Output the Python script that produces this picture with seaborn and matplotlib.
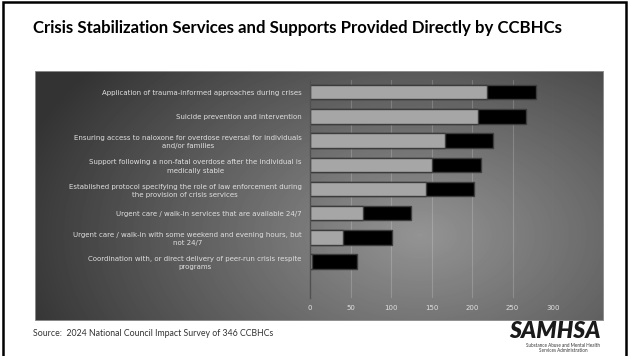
import matplotlib
matplotlib.use("Agg")
import matplotlib.pyplot as plt
from matplotlib.patches import Rectangle
import numpy as np
import pandas as pd
import seaborn as sns

# Services offered by CCBHCs (number of CCBHCs)
categories = [
    "Application of trauma-informed approaches during crises",
    "Suicide prevention and intervention",
    "Ensuring access to naloxone for overdose reversal for individuals and/or families",
    "Support following a non-fatal overdose after the individual is medically stable",
    "Established protocol specifying the role of law enforcement during the provision of crisis services",
    "Urgent care / walk-in services that are available 24/7",
    "Urgent care / walk-in with some weekend and evening hours, but not 24/7",
    "Coordination with, or direct delivery of peer-run crisis respite programs",
]
tick_labels = [
    "Application of trauma-informed approaches during crises",
    "Suicide prevention and intervention",
    "Ensuring access to naloxone for overdose reversal for individuals\nand/or families",
    "Support following a non-fatal overdose after the individual is\nmedically stable",
    "Established protocol specifying the role of law enforcement during\nthe provision of crisis services",
    "Urgent care / walk-in services that are available 24/7",
    "Urgent care / walk-in with some weekend and evening hours, but\nnot 24/7",
    "Coordination with, or direct delivery of peer-run crisis respite\nprograms",
]
provided_directly = [219, 208, 167, 151, 143, 65, 41, 3]
other_response = [60, 59, 59, 60, 60, 60, 60, 55]
x_ticks = [0, 50, 100, 150, 200, 250, 300]

W, H = 629, 356


def fx(px):
    return px / W


def fy(py):
    return 1 - py / H


sns.set_theme(style="white")
plt.rcParams["font.family"] = ["Lato", "DejaVu Sans"]

df = pd.DataFrame({
    "service": categories,
    "direct": provided_directly,
    "other": other_response,
})
df["total"] = df["direct"] + df["other"]

fig = plt.figure(figsize=(W / 100, H / 100), dpi=100)
fig.patch.set_facecolor("white")

# dark panel with a radial gray gradient
bg = fig.add_axes([fx(35), fy(321), fx(604) - fx(35), fy(71) - fy(321)])
yy, xx = np.mgrid[71:321, 35:604]
r = np.sqrt(((xx - 420) / 420) ** 2 + ((yy - 235) / 270) ** 2)
shade = 0.58 - 0.38 * np.clip(r, 0, 1)
bg.imshow(shade, cmap="gray", vmin=0, vmax=1, extent=[0, 1, 0, 1],
          aspect="auto", origin="upper", interpolation="bilinear")
bg.set_axis_off()
bg.add_patch(Rectangle((0, 0), 1, 1, transform=bg.transAxes, fill=False,
                       edgecolor="#9a9a9a", lw=1.2))

ax = fig.add_axes([fx(310), fy(298), fx(553) - fx(310), fy(80) - fy(298)])
ax.set_facecolor("none")
sns.barplot(data=df, x="total", y="service", order=categories, orient="h",
            color="black", saturation=1, width=0.6, errorbar=None,
            edgecolor="#3c3c3c", linewidth=1, ax=ax)
sns.barplot(data=df, x="direct", y="service", order=categories, orient="h",
            color="#a6a6a6", saturation=1, width=0.6, errorbar=None,
            edgecolor="#3c3c3c", linewidth=1, ax=ax)

ax.set_xlim(0, 300)
ax.set_ylim(8.5, -0.5)
ax.set_xticks(x_ticks)
ax.set_xticklabels([str(t) for t in x_ticks], family=["DejaVu Sans"])
ax.set_yticks(range(len(categories)))
ax.set_yticklabels(tick_labels, family=["DejaVu Sans"], linespacing=1.45)
for lab in ax.get_yticklabels():
    lab.set_multialignment("center")
ax.tick_params(axis="y", length=0, pad=6, labelsize=5, labelcolor="#e0e0e0")
ax.tick_params(axis="x", length=0, pad=5, labelsize=5, labelcolor="#e0e0e0")
ax.set_xlabel("")
ax.set_ylabel("")
ax.xaxis.grid(True, color="white", alpha=0.18, lw=0.8)
ax.set_axisbelow(True)
for side in ["top", "right", "bottom"]:
    ax.spines[side].set_visible(False)
ax.spines["left"].set_color("#505050")
ax.spines["left"].set_linewidth(1)

fig.text(fx(33), fy(28), "Crisis Stabilization Services and Supports Provided Directly by CCBHCs",
         fontsize=12.1, fontweight="bold", color="black", ha="left", va="center")
fig.text(fx(33), fy(333), "Source:  2024 National Council Impact Survey of 346 CCBHCs",
         fontsize=6.3, color="#333333", ha="left", va="center")
fig.text(fx(555), fy(332), "SAMHSA", fontsize=16.5, fontweight="heavy", style="italic",
         color="#1a1a1a", ha="center", va="center")
fig.text(fx(563), fy(348), "Substance Abuse and Mental Health\nServices Administration",
         fontsize=3.3, color="#333333", ha="center", va="center", linespacing=1.1)

# slide frame
fig.add_artist(Rectangle((fx(3), -0.05), fx(626) - fx(3), fy(2) + 0.05,
                         transform=fig.transFigure, fill=False,
                         edgecolor="black", lw=1.8))

fig.savefig("out.png", dpi=100)
